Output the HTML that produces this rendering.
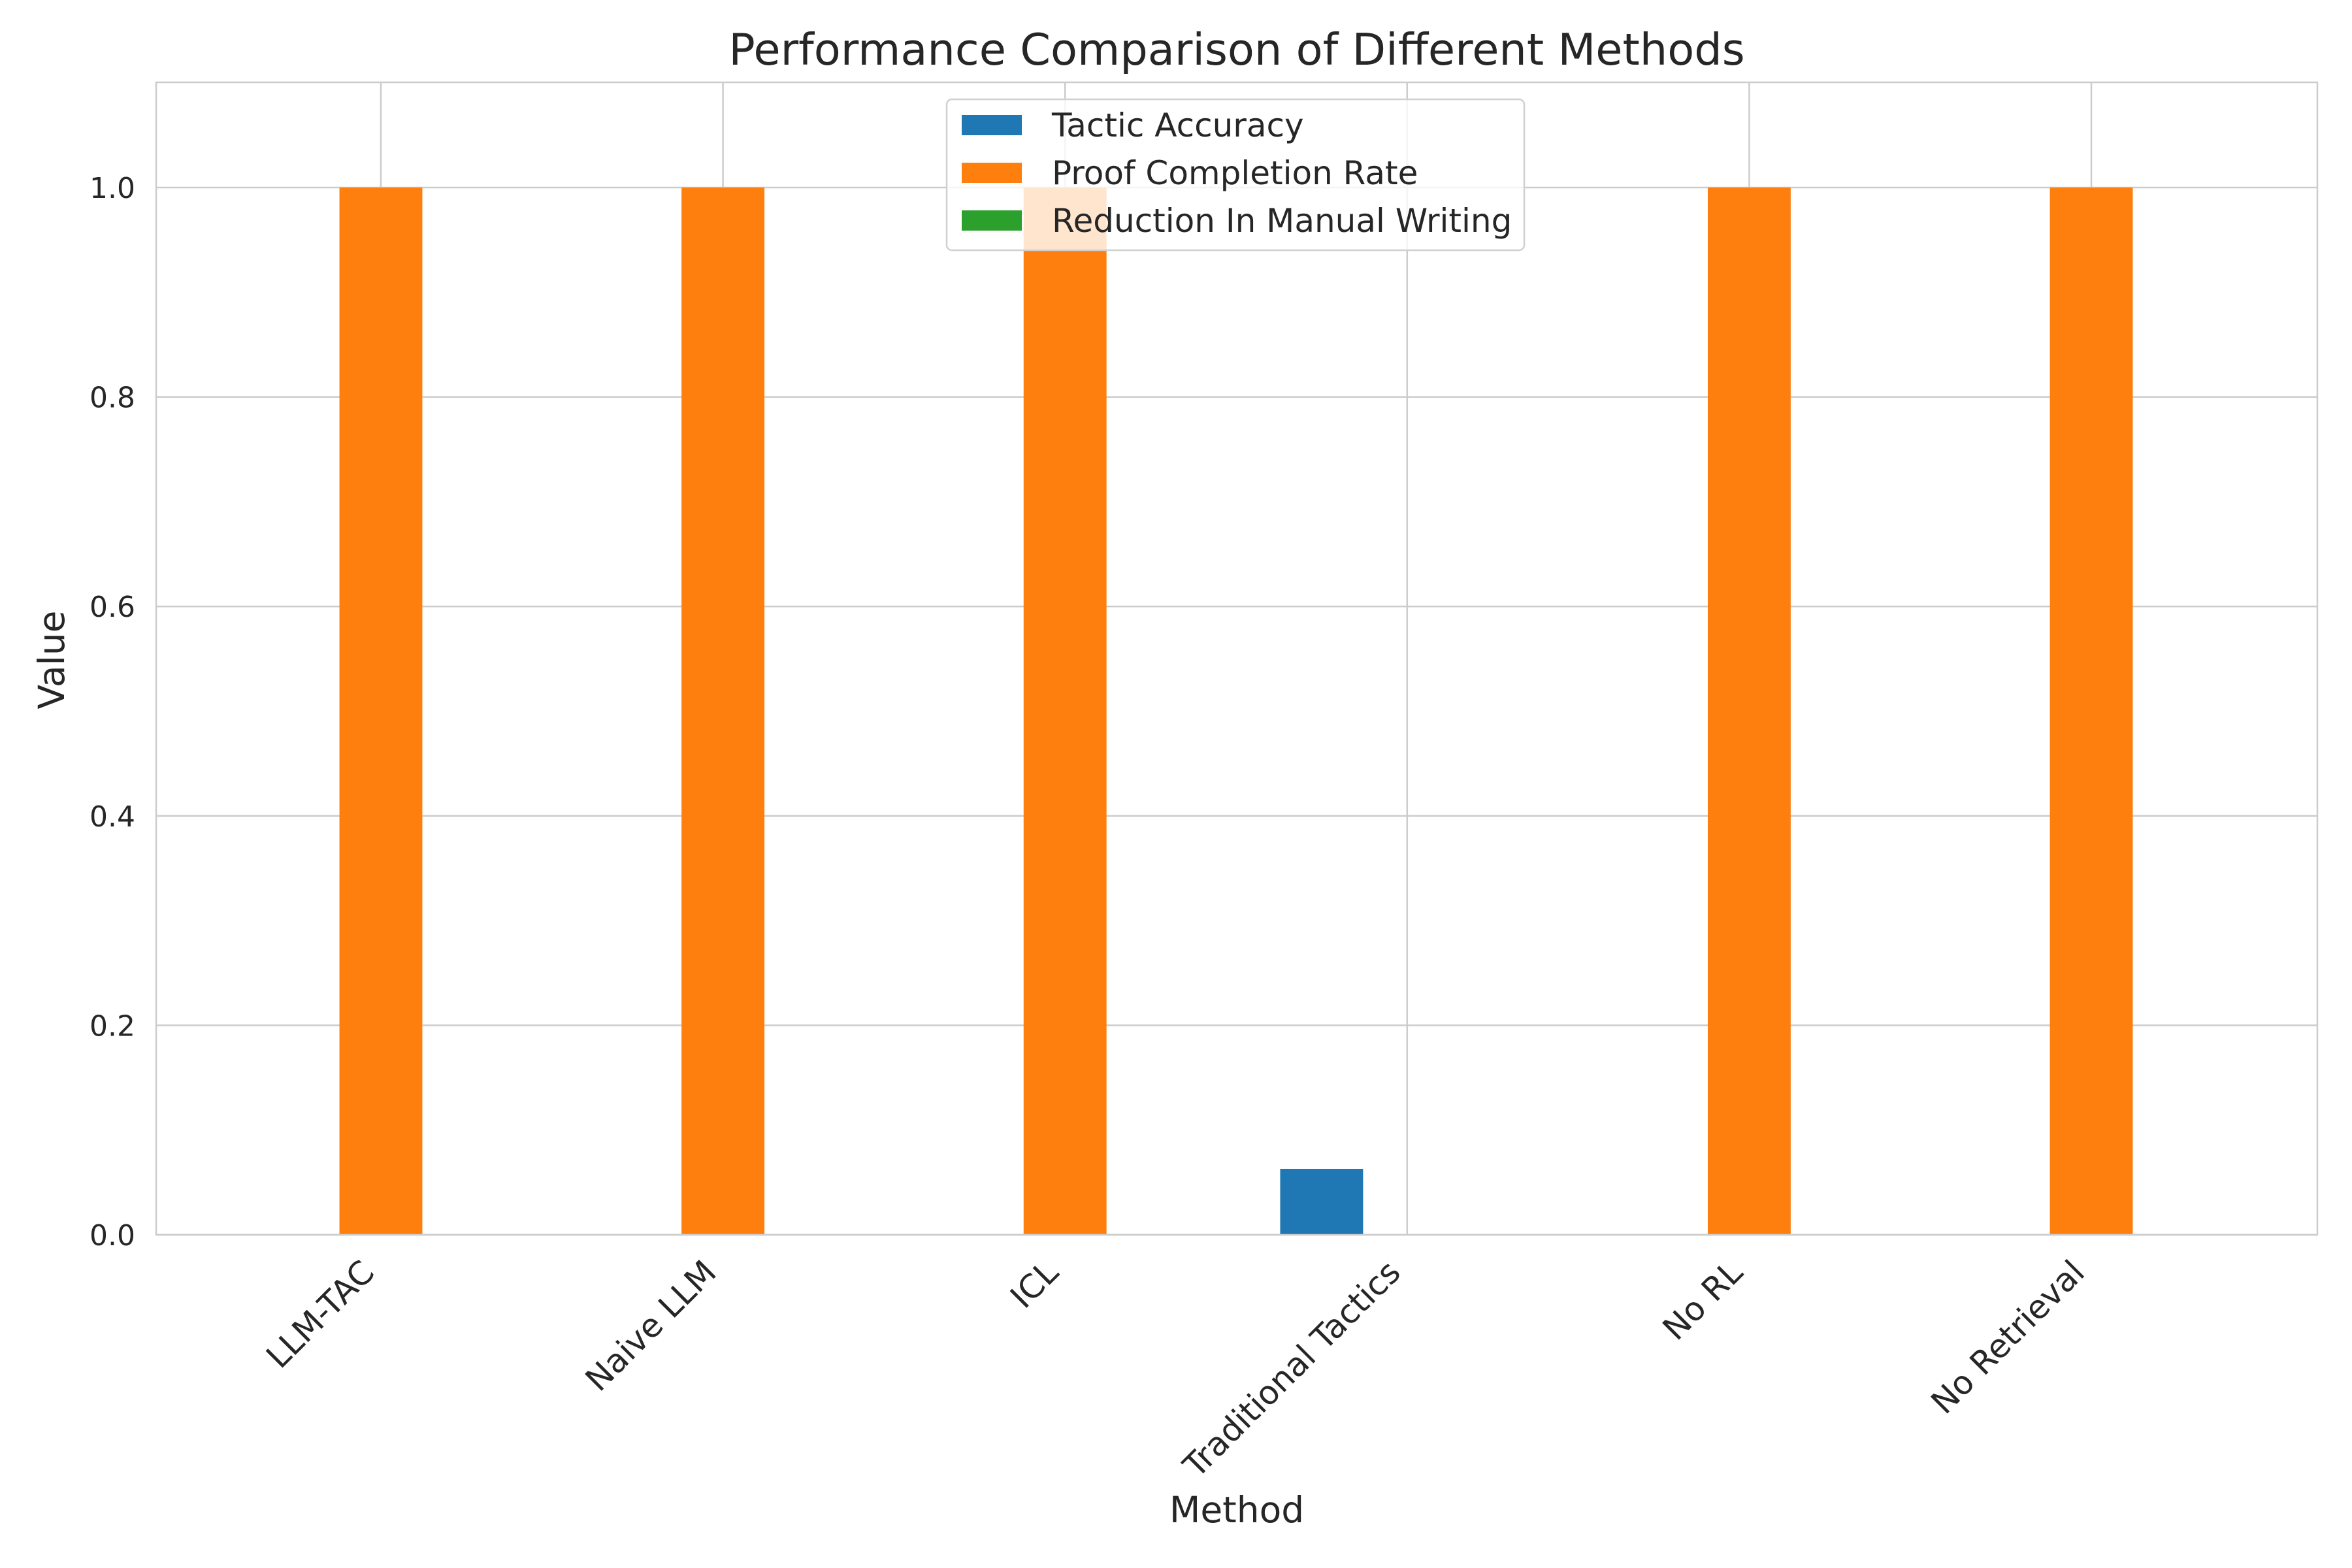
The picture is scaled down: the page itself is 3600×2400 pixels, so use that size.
<!DOCTYPE html>
<html><head><meta charset="utf-8"><style>
html,body{margin:0;padding:0;background:#fff;}
svg{display:block;font-family:"DejaVu Sans","Liberation Sans",sans-serif;}
</style></head><body>
<svg id="chart" width="3600" height="2400" viewBox="0 0 3600 2400" xmlns="http://www.w3.org/2000/svg">
<rect x="0" y="0" width="3600" height="2400" fill="#fff"/>
<g id="grid"></g>
<g id="bars"></g>
<rect x="239" y="126" width="3308" height="1764" fill="none" stroke="#cccccc" stroke-width="2.5"/>
<g id="ticks"></g>
<text x="1893" y="99" text-anchor="middle" font-size="67" fill="#262626">Performance Comparison of Different Methods</text>
<text x="0" y="0" transform="translate(98,1010) rotate(-90)" text-anchor="middle" font-size="55" fill="#262626">Value</text>
<text x="1893" y="2330" text-anchor="middle" font-size="55" fill="#262626">Method</text>
<g id="legend">
<rect x="1449" y="152" width="884" height="231" rx="8" fill="#fff" fill-opacity="0.8" stroke="#d0d0d0" stroke-width="2.5"/>
<rect x="1472" y="176" width="92" height="31" fill="#1f77b4"/>
<text x="1610" y="209" font-size="50" fill="#262626">Tactic Accuracy</text>
<rect x="1472" y="249" width="92" height="31" fill="#ff7f0e"/>
<text x="1610" y="282" font-size="50" fill="#262626">Proof Completion Rate</text>
<rect x="1472" y="322" width="92" height="31" fill="#2ca02c"/>
<text x="1610" y="355" font-size="50" fill="#262626">Reduction In Manual Writing</text>
</g>
</svg>
<script>
const categories = ["LLM-TAC","Naive LLM","ICL","Traditional Tactics","No RL","No Retrieval"];
const seriesNames = ["Tactic Accuracy","Proof Completion Rate","Reduction In Manual Writing"];
const tacticAccuracy = [0, 0, 0, 0.063, 0, 0];
const proofCompletion = [1.0, 1.0, 1.0, 0, 1.0, 1.0];
const reductionManual = [0, 0, 0, 0, 0, 0];
const yTicks = [0.0, 0.2, 0.4, 0.6, 0.8, 1.0];
const yTickLabels = ["0.0","0.2","0.4","0.6","0.8","1.0"];

const NS = "http://www.w3.org/2000/svg";
const colors = ["#1f77b4","#ff7f0e","#2ca02c"];
const series = [tacticAccuracy, proofCompletion, reductionManual];
const plotL = 239, plotR = 3547, plotT = 126, plotB = 1890;
function yScale(v){ return plotB - v * 1603; }
function xScale(i){ return 583 + 523.6 * i; }
const bandW = 523.6 * 0.25;

const grid = document.getElementById('grid');
const bars = document.getElementById('bars');
const ticks = document.getElementById('ticks');

yTicks.forEach((t, k) => {
  const y = yScale(t);
  const l = document.createElementNS(NS, 'line');
  l.setAttribute('x1', plotL); l.setAttribute('x2', plotR);
  l.setAttribute('y1', y); l.setAttribute('y2', y);
  l.setAttribute('stroke', '#cccccc'); l.setAttribute('stroke-width', '2.5');
  
  
  grid.appendChild(l);
  const tx = document.createElementNS(NS, 'text');
  tx.setAttribute('x', 207); tx.setAttribute('y', y + 16);
  tx.setAttribute('text-anchor', 'end'); tx.setAttribute('font-size', '44'); tx.setAttribute('fill', '#262626');
  tx.textContent = yTickLabels[k];
  
  
  ticks.appendChild(tx);
});

categories.forEach((c, i) => {
  const x = xScale(i);
  const l = document.createElementNS(NS, 'line');
  l.setAttribute('x1', x); l.setAttribute('x2', x);
  l.setAttribute('y1', plotT); l.setAttribute('y2', plotB);
  l.setAttribute('stroke', '#cccccc'); l.setAttribute('stroke-width', '2.5');
  
  
  grid.appendChild(l);
  const tx = document.createElementNS(NS, 'text');
  tx.setAttribute('transform', 'translate(' + (x - 34) + ',' + 1924 + ') rotate(-45)');
  tx.setAttribute('text-anchor', 'end'); tx.setAttribute('font-size', '50'); tx.setAttribute('fill', '#262626');
  tx.setAttribute('dy', '0.75em');
  tx.textContent = c;
  
  
  ticks.appendChild(tx);
});

series.forEach((vals, s) => {
  vals.forEach((v, i) => {
    if (v <= 0) return;
    const cx = xScale(i) + (s - 1) * bandW;
    const r = document.createElementNS(NS, 'rect');
    r.setAttribute('x', cx - bandW / 2 + 2);
    r.setAttribute('width', bandW - 4);
    r.setAttribute('y', yScale(v));
    r.setAttribute('height', yScale(0) - yScale(v));
    r.setAttribute('fill', colors[s]);
    
    
    bars.appendChild(r);
  });
});
</script>
</body></html>
